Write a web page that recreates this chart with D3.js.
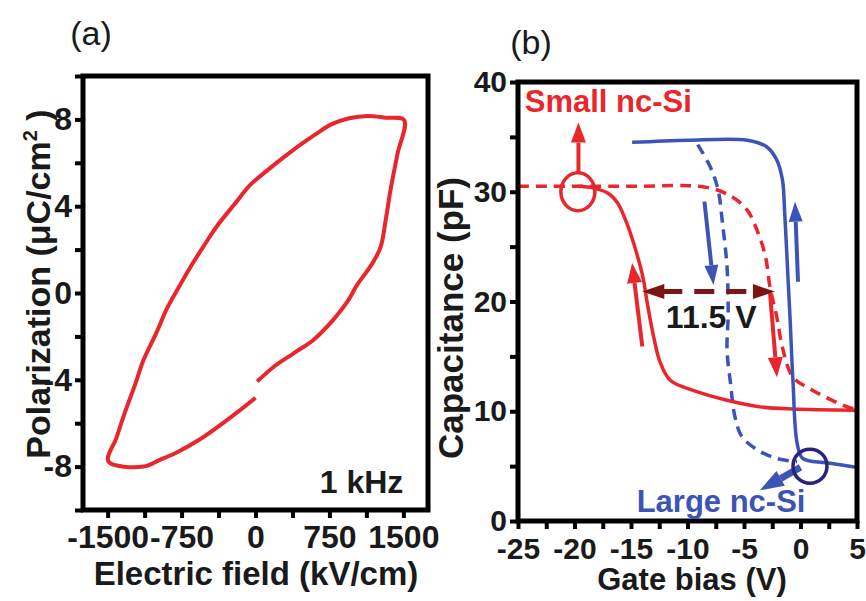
<!DOCTYPE html>
<html>
<head>
<meta charset="utf-8">
<script src="https://cdn.jsdelivr.net/npm/d3@7"></script>
<style>
  body { margin: 0; background: #fff; }
  svg { display: block; }
  text { font-family: "Liberation Sans", Arial, sans-serif; }
</style>
</head>
<body>
<div id="chart"></div>
<script>
// ---- (a) P-E hysteresis loop, 1 kHz ----
const loopField = [0, -220, -559, -800, -966, -1136, -1492,
  -1410, -1322, -1220, -1136, -1000, -898, -780, -661, -520, -390, -220, -51, 120, 288, 460, 627, 763, 950, 1136, 1320, 1508,
  1441, 1373, 1322, 1271, 1203, 1136, 1034, 932, 797, 593, 390, 186, 17];
const loopPol = [-4.83, -5.62, -6.73, -7.35, -7.68, -8.0, -7.76,
  -6.66, -5.47, -4.2, -3.09, -1.78, -0.71, 0.25, 1.19, 2.2, 3.09, 4.05, 4.99, 5.65, 6.26, 6.85, 7.37, 7.76, 8.05, 8.16, 8.08, 7.97,
  6.42, 4.83, 3.4, 2.14, 1.5, 1.03, 0.4, -0.4, -1.19, -2.14, -2.77, -3.4, -4.08];
const fieldTicks = [-1500, -750, 0, 750, 1500];
const fieldMinor = [-1125, -375, 375, 1125];
const polTicks = [-8, -4, 0, 4, 8];
const polMinor = [-10, -6, -2, 2, 6, 10];

// ---- (b) C-V curves ----
const smallSolidV = [-19.7, -18.6, -17.1, -16.2, -15.4, -14.5, -13.9, -13.6, -13.0, -12.4, -11.5, -9.5, -6.5, -3.6, -0.7, 4.9];
const smallSolidC = [30.5, 30.4, 29.9, 29.0, 27.2, 24.4, 22.0, 20.1, 16.8, 14.4, 12.8, 11.9, 11.0, 10.4, 10.2, 10.1];
const smallDashV = [-25, -15, -8.3, -6.0, -4.7, -3.85, -3.1, -2.7, -2.1, -1.55, -0.66, 1.1, 3.2, 4.4, 5];
const smallDashC = [30.5, 30.5, 30.4, 29.5, 28.3, 26.5, 24.1, 21.3, 18.6, 15.6, 13.1, 11.9, 10.8, 10.3, 10.2];
const largeSolidV = [-14.9, -10, -4.7, -3.0, -2.1, -1.6, -1.4, -1.1, -0.93, -0.66, -0.3, 0.2, 2.3, 4.9];
const largeSolidC = [34.5, 34.7, 34.7, 34.1, 32.9, 31.1, 28.1, 22.0, 18.6, 12.6, 7.1, 5.7, 5.3, 4.9];
const largeDashV = [-9.1, -8.0, -7.3, -6.9, -6.5, -6.4, -6.5, -6.2, -5.8, -5.2, -3.85, -2.1, -0.3];
const largeDashC = [34.3, 32.3, 30.2, 27.1, 23.1, 18.9, 15.6, 12.6, 9.5, 7.7, 6.5, 5.7, 5.4];
const biasTicks = [-25, -20, -15, -10, -5, 0, 5];
const biasMinor = [-22.5, -17.5, -12.5, -7.5, -2.5, 2.5];
const capTicks = [0, 10, 20, 30, 40];
const capMinor = [5, 15, 25, 35];

// arrows: [fromV, fromC, toV, toC]
const redArrows = [[-19.65, 31.7, -19.65, 36.3], [-14.0, 15.9, -14.9, 23.5], [-2.7, 20.8, -2.08, 13.1]];
const blueArrows = [[-8.5, 29.1, -7.7, 21.5], [-0.22, 21.8, -0.49, 29.1], [0.0, 4.9, -3.6, 2.8]];
const shiftArrow = [-14.0, -2.26, 20.9];
// circles: [V, C]
const redCircle = [-19.7, 30.0];
const blueCircle = [0.84, 5.0];

const red = "#e8262b", blue = "#3c54b6", navy = "#27237e", maroon = "#7d1414", ink = "#1a1a1a";

const svg = d3.select("#chart").append("svg")
  .attr("width", 866).attr("height", 601);

const defs = svg.append("defs");

function styleAxis(g, size) {
  g.select(".domain").remove();
  g.selectAll(".tick line").attr("stroke", "#000").attr("stroke-width", 4);
  g.selectAll(".tick text").style("font-size", size + "px").style("font-weight", "bold").style("fill", ink);
}

function drawAxes(g, x, y, xMaj, xMin, yMaj, yMin, size, xPad) {
  const [x0, x1] = x.range();
  const [y0, y1] = y.range();
  g.append("g").attr("transform", `translate(0,${y0})`)
    .call(d3.axisBottom(x).tickValues(xMaj.concat(xMin)).tickSize(8).tickPadding(xPad)
      .tickFormat(d => xMaj.includes(d) ? d : ""))
    .call(a => styleAxis(a, size));
  g.append("g").attr("transform", `translate(${x0},0)`)
    .call(d3.axisLeft(y).tickValues(yMaj.concat(yMin)).tickSize(8).tickPadding(3)
      .tickFormat(d => yMaj.includes(d) ? d : ""))
    .call(a => styleAxis(a, size));
  g.append("rect")
    .attr("x", x0).attr("y", y1)
    .attr("width", x1 - x0).attr("height", y0 - y1)
    .attr("fill", "none").attr("stroke", "#000").attr("stroke-width", 5);
}

// ============ panel (a) ============
const xa = d3.scaleLinear().domain([-1750, 1750]).range([83, 428]);
const ya = d3.scaleLinear().domain([-10, 10]).range([510, 76]);
const ga = svg.append("g");

ga.append("path")
  .datum(loopField.map((e, i) => [e, loopPol[i]]))
  .attr("d", d3.line().x(d => xa(d[0])).y(d => ya(d[1])).curve(d3.curveCatmullRom.alpha(0.5)))
  .attr("fill", "none").attr("stroke", red).attr("stroke-width", 4).attr("stroke-linejoin", "round");

drawAxes(ga, xa, ya, fieldTicks, fieldMinor, polTicks, polMinor, 32, 7);

ga.append("text").attr("x", xa(1500)).attr("y", ya(-9.2))
  .attr("text-anchor", "end").style("font-size", "32px").style("font-weight", "bold").style("fill", ink).text("1 kHz");

ga.append("text").attr("x", 256).attr("y", 585)
  .attr("text-anchor", "middle").style("font-size", "33px").style("font-weight", "bold").style("fill", ink)
  .text("Electric field (kV/cm)");

const pt = ga.append("text").attr("transform", "translate(50,284) rotate(-90)")
  .attr("text-anchor", "middle").style("font-size", "34px").style("font-weight", "bold").style("fill", ink);
pt.append("tspan").text("Polarization (\u03bcC/cm");
pt.append("tspan").attr("dy", -13).style("font-size", "20px").text("2");
pt.append("tspan").attr("dy", 13).text(" )");

svg.append("text").attr("x", 91).attr("y", 45).attr("text-anchor", "middle")
  .style("font-size", "34px").style("fill", ink).text("(a)");

// ============ panel (b) ============
const xb = d3.scaleLinear().domain([-25, 5]).range([518, 857]);
const yb = d3.scaleLinear().domain([0, 40]).range([521, 82]);
const gb = svg.append("g");

defs.append("clipPath").attr("id", "clipb").append("rect")
  .attr("x", 518).attr("y", 82).attr("width", 339).attr("height", 439);

const lineB = d3.line().x(d => xb(d[0])).y(d => yb(d[1])).curve(d3.curveCatmullRom.alpha(0.5));
const curves = [
  { v: smallDashV, c: smallDashC, color: red, dash: "11,7" },
  { v: largeDashV, c: largeDashC, color: blue, dash: "11,7" },
  { v: smallSolidV, c: smallSolidC, color: red, dash: null },
  { v: largeSolidV, c: largeSolidC, color: blue, dash: null }
];
curves.forEach(s => {
  gb.append("path")
    .datum(s.v.map((v, i) => [v, s.c[i]]))
    .attr("clip-path", "url(#clipb)")
    .attr("d", lineB)
    .attr("fill", "none").attr("stroke", s.color).attr("stroke-width", 3.5)
    .attr("stroke-dasharray", s.dash);
});

function arrowHead(g, x1, y1, x2, y2, len, wid, color) {
  const a = Math.atan2(y2 - y1, x2 - x1);
  const bx = x2 - len * Math.cos(a), by = y2 - len * Math.sin(a);
  const nx = -Math.sin(a) * wid / 2, ny = Math.cos(a) * wid / 2;
  g.append("path")
    .attr("d", `M${x2},${y2}L${bx + nx},${by + ny}L${bx - nx},${by - ny}Z`)
    .attr("fill", color);
  return [bx, by];
}

function arrow(g, d, color, len, wid, sw) {
  const x1 = xb(d[0]), y1 = yb(d[1]), x2 = xb(d[2]), y2 = yb(d[3]);
  const [bx, by] = arrowHead(g, x1, y1, x2, y2, len, wid, color);
  g.append("line").attr("x1", x1).attr("y1", y1).attr("x2", bx).attr("y2", by)
    .attr("stroke", color).attr("stroke-width", sw);
}

redArrows.forEach(d => arrow(gb, d, red, 20, 15, 4));
blueArrows.slice(0, 2).forEach(d => arrow(gb, d, blue, 20, 14, 4));
arrow(gb, blueArrows[2], blue, 24, 17, 7);

// double-headed shift arrow
{
  const xl = xb(shiftArrow[0]), xr = xb(shiftArrow[1]), yy = yb(shiftArrow[2]);
  arrowHead(gb, xr, yy, xl, yy, 22, 15, maroon);
  arrowHead(gb, xl, yy, xr, yy, 22, 15, maroon);
  gb.append("line").attr("x1", xl + 20).attr("x2", xr - 20).attr("y1", yy).attr("y2", yy)
    .attr("stroke", maroon).attr("stroke-width", 5).attr("stroke-dasharray", "20,12");
}

gb.append("ellipse").attr("cx", xb(redCircle[0])).attr("cy", yb(redCircle[1]))
  .attr("rx", 17).attr("ry", 19).attr("fill", "none").attr("stroke", red).attr("stroke-width", 3.5);
gb.append("ellipse").attr("cx", xb(blueCircle[0])).attr("cy", yb(blueCircle[1]))
  .attr("rx", 17).attr("ry", 17).attr("fill", "none").attr("stroke", navy).attr("stroke-width", 3.5);

drawAxes(gb, xb, yb, biasTicks, biasMinor, capTicks, capMinor, 30, 9);

gb.append("text").attr("x", xb(-7.9)).attr("y", yb(17.6)).attr("text-anchor", "middle")
  .style("font-size", "32px").style("font-weight", "bold").style("fill", ink).text("11.5 V");
gb.append("text").attr("x", xb(-24.4)).attr("y", yb(37.3))
  .style("font-size", "31px").style("font-weight", "bold").style("fill", red).text("Small nc-Si");
gb.append("text").attr("x", xb(-14.5)).attr("y", yb(0.8))
  .style("font-size", "31px").style("font-weight", "bold").style("fill", blue).text("Large nc-Si");

gb.append("text").attr("x", 692).attr("y", 590)
  .attr("text-anchor", "middle").style("font-size", "31px").style("font-weight", "bold").style("fill", ink)
  .text("Gate bias (V)");
gb.append("text").attr("transform", "translate(463,318) rotate(-90)")
  .attr("text-anchor", "middle").style("font-size", "35px").style("font-weight", "bold").style("fill", ink)
  .text("Capacitance (pF)");

svg.append("text").attr("x", 531).attr("y", 54).attr("text-anchor", "middle")
  .style("font-size", "34px").style("fill", ink).text("(b)");
</script>
</body>
</html>
